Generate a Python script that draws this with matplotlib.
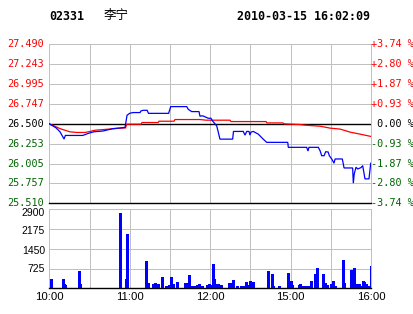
import matplotlib
matplotlib.use("Agg")
import matplotlib.pyplot as plt
import numpy as np

# ---------------- data ----------------
code = "02331"
name = "李宁"
stamp = "2010-03-15 16:02:09"
prev_close = 26.50
price_span = 0.99  # half range of the price axis

price_labels = ["25.510", "25.757", "26.005", "26.253", "26.500", "26.747", "26.995", "27.243", "27.490"]
pct_labels = ["-3.74 %", "-2.80 %", "-1.87 %", "-0.93 %", " 0.00 %", "+0.93 %", "+1.87 %", "+2.80 %", "+3.74 %"]

# minute since open (0 = 10:00, 120 = 12:00 / 14:30 gap, 240 = 16:00)
price_min = [0, 5, 8, 11, 12, 25, 29, 33, 40, 47.5, 56.5, 58, 60, 62.5, 67.7, 68.4, 70, 73, 74, 89,
             90.6, 102.5, 103.7, 106.2, 111.7, 112.4, 113.2, 114.7, 118.6, 120.6, 121.7, 124.9, 126,
             127.3, 136.8, 137.4, 144.7, 146, 147.3, 149, 149.7, 150.5, 152.2, 155.9, 159.6, 162.2,
             177.9, 178.3, 192, 193, 193.7, 200.7, 202, 203.2, 205, 206.2, 208, 208.9, 210.7, 212.4,
             213.2, 218.6, 219.9, 226.3, 226.8, 227.5, 228.8, 230.1, 232.5, 233.8, 235.5, 238.5, 239.8]
price_val = [26.50, 26.45, 26.40, 26.31, 26.355, 26.355, 26.38, 26.40, 26.41, 26.44, 26.455, 26.606,
             26.631, 26.64, 26.64, 26.66, 26.668, 26.668, 26.63, 26.63, 26.714, 26.714, 26.68, 26.652,
             26.652, 26.594, 26.598, 26.598, 26.569, 26.569, 26.538, 26.474, 26.40, 26.309, 26.309,
             26.405, 26.405, 26.359, 26.405, 26.405, 26.359, 26.396, 26.405, 26.371, 26.309, 26.269,
             26.269, 26.207, 26.207, 26.161, 26.207, 26.207, 26.165, 26.103, 26.103, 26.152, 26.149,
             26.103, 26.062, 26.009, 26.062, 26.062, 25.95, 25.95, 25.761, 25.876, 25.959, 25.938,
             25.954, 25.979, 25.814, 25.814, 26.009]

avg_min = [0, 4, 8, 11.7, 15.4, 20.7, 26.6, 30.4, 34.1, 41.6, 49, 56.9, 57.7, 68.4, 69.2, 81.1, 81.8,
           93, 93.8, 112.4, 116.9, 134.8, 135.5, 161.7, 162.4, 174.3, 175.1, 187, 190.8, 202, 209.5,
           217, 224.5, 232, 239.8]
avg_val = [26.50, 26.47, 26.44, 26.42, 26.40, 26.392, 26.392, 26.405, 26.42, 26.43, 26.44, 26.449,
           26.495, 26.495, 26.516, 26.516, 26.532, 26.532, 26.553, 26.553, 26.545, 26.545, 26.528,
           26.528, 26.511, 26.511, 26.499, 26.491, 26.483, 26.47, 26.446, 26.434, 26.396, 26.371, 26.343]

vol_min = [1, 10, 11, 12, 22, 23, 53, 57, 58, 72, 73, 74, 77, 78, 79, 81, 84, 87, 88, 89, 91, 92, 95,
           101, 102, 104, 106, 107, 108, 110, 112, 113, 114, 118, 119, 120, 121, 122, 123, 124, 125,
           126, 127, 128, 134, 136, 137, 140, 143, 144, 146, 147, 148, 149, 150, 151, 152, 163, 166,
           167, 171, 178, 179, 180, 181, 186, 187, 188, 190, 191, 192, 193, 194, 195, 198, 200, 204,
           206, 207, 210, 212, 213, 219, 220, 225, 226, 227, 228, 229, 230, 231, 232, 233, 234, 235,
           236, 237, 238, 239, 240]
vol_val = [340, 340, 158, 120, 635, 158, 2775, 340, 1993, 1002, 80, 195, 158, 158, 195, 158, 415, 80,
           80, 120, 415, 158, 232, 195, 195, 489, 80, 80, 80, 120, 158, 80, 80, 120, 158, 120, 80, 892,
           340, 120, 158, 158, 120, 120, 195, 195, 305, 80, 80, 80, 80, 232, 120, 80, 270, 80, 232,
           635, 525, 80, 80, 562, 158, 270, 120, 120, 158, 80, 80, 80, 80, 80, 80, 270, 525, 745, 525,
           195, 120, 158, 270, 80, 1038, 195, 672, 80, 745, 80, 158, 158, 158, 80, 80, 270, 232, 158,
           80, 80, 80, 818]

time_ticks = [0, 60, 120, 180, 240]
time_labels = ["10:00", "11:00", "12:00", "15:00", "16:00"]
vol_ticks = [725, 1450, 2175, 2900]

# ---------------- figure ----------------
W, H = 414, 314
fig = plt.figure(figsize=(W / 100, H / 100), dpi=100)
fig.patch.set_facecolor("white")

RED = "#ff0000"
GREEN = "#006400"
GRID = "#c0c0c0"
BLUE = "#0000ff"
px = 0.72  # one pixel in points

def fx(x):
    return x / W

def fy(y):
    return 1 - y / H

L, R = 49.3, 371.0
ax = fig.add_axes([fx(L), fy(203.3), fx(R) - fx(L), fy(44.3) - fy(203.3)])
axv = fig.add_axes([fx(L), fy(288.3), fx(R) - fx(L), fy(209.3) - fy(288.3)])

lo, hi = prev_close - price_span, prev_close + price_span
levels = np.linspace(lo, hi, 9)

for a in (ax, axv):
    a.set_xlim(0, 240)
    for s in a.spines.values():
        s.set_color(GRID)
        s.set_linewidth(px)
    a.tick_params(length=0)
    a.set_xticks(np.arange(0, 241, 30))
    a.grid(True, color=GRID, linewidth=px)
    a.set_axisbelow(True)

ax.set_ylim(lo, hi)
ax.set_yticks(levels)
ax.set_yticklabels([])
ax.set_xticklabels([])
ax.spines["bottom"].set_color("black")
ax.spines["bottom"].set_linewidth(1.0)
ax.axhline(prev_close, color="black", linewidth=1.0, zorder=2)

ax.plot(avg_min, avg_val, color=RED, linewidth=0.9, zorder=3, solid_joinstyle="miter")
ax.plot(price_min, price_val, color=BLUE, linewidth=0.9, zorder=4, solid_joinstyle="miter")

mono = "DejaVu Sans Mono"
for lv, plab, pct in zip(levels, price_labels, pct_labels):
    d = lv - prev_close
    if abs(d) < 1e-9:
        c = "black"
    elif d > 0:
        c = RED
    else:
        c = GREEN
    ax.text(-0.017, (lv - lo) / (hi - lo), plab, transform=ax.transAxes,
            ha="right", va="center", color=c, fontsize=7.3, family=mono)
    ax.text(1.0, (lv - lo) / (hi - lo), pct, transform=ax.transAxes,
            ha="left", va="center", color=c, fontsize=7.3, family=mono)

# volume
axv.set_ylim(0, 2900)
axv.set_yticks(vol_ticks)
axv.set_yticklabels([])
axv.spines["bottom"].set_color("black")
axv.spines["bottom"].set_linewidth(1.0)
axv.vlines(vol_min, 0, vol_val, color=BLUE, linewidth=1.0, antialiased=False, zorder=3)
axv.set_xticklabels([])
vol_offsets = [0.0, 2.0, 2.0, 4.0]  # px downward shift of labels as in the reference
for v, off in zip(vol_ticks, vol_offsets):
    axv.annotate(str(v), xy=(0, v), xycoords=("axes fraction", "data"),
                 xytext=(-3, -off * 0.72), textcoords="offset points",
                 ha="right", va="center", fontsize=7.5, family="Liberation Sans")
for t, lab in zip(time_ticks, time_labels):
    axv.annotate(lab, xy=(t, 0), xycoords=("data", "axes fraction"),
                 xytext=(0, -3), textcoords="offset points", ha="center", va="top",
                 fontsize=8.2, family="Liberation Sans")

# header
fig.text(fx(49.5), fy(16), code, fontsize=8.4, family=mono, fontweight="bold", va="center", ha="left")
fig.text(fx(104), fy(16), name, fontsize=9, family=["Noto Sans CJK SC", "DejaVu Sans"],
         va="center", ha="left")
fig.text(fx(370), fy(16), stamp, fontsize=8.4, family=mono, fontweight="bold", va="center",
         ha="right")

fig.savefig("out.png", dpi=100, facecolor="white")
